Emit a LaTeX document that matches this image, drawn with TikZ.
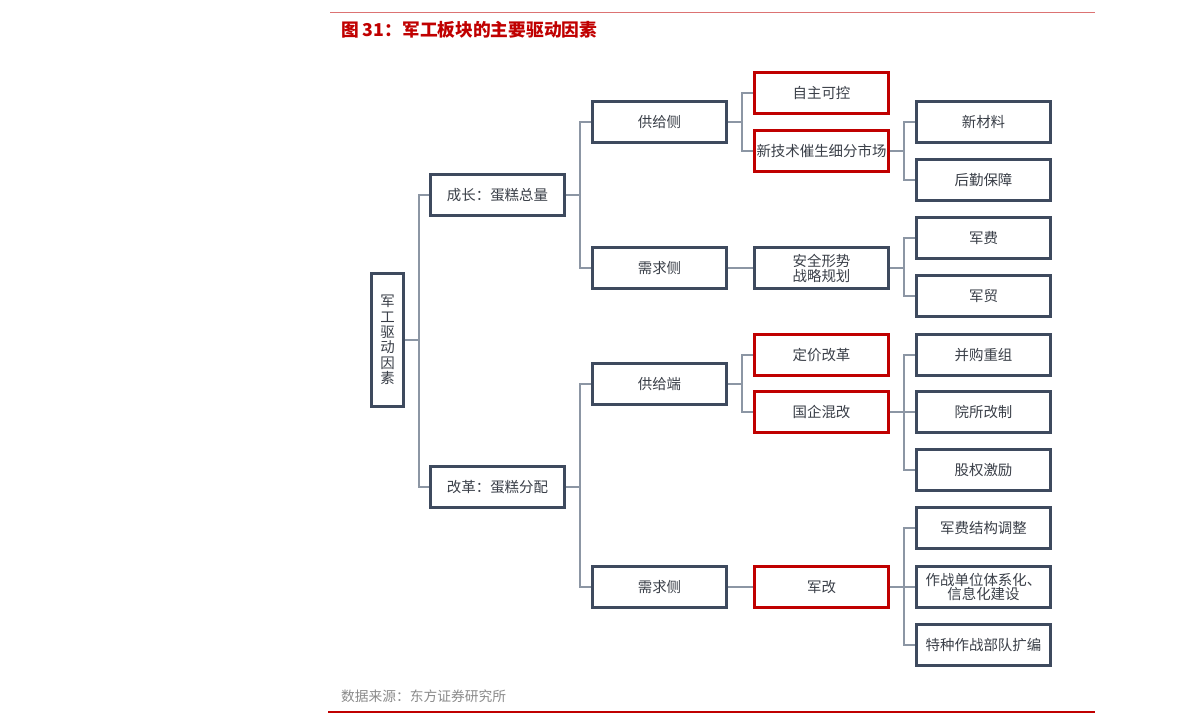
\documentclass[tikz,border=0pt]{standalone}
\usepackage{fontspec}
\usepackage{xcolor}
\usepackage{tikz}
\usetikzlibrary{calc,positioning}
\newfontfamily\cjk{Noto Sans CJK SC}
\definecolor{boxc}{HTML}{3E4A5E}
\definecolor{redc}{HTML}{C00000}
\definecolor{linec}{HTML}{8C96A4}
\definecolor{txtc}{HTML}{3A3F48}
\definecolor{srcc}{HTML}{8A8A8A}
\tikzset{
  box/.style={draw=boxc,line width=2.6bp,fill=white,align=center,inner sep=0pt,
    minimum width=134bp,minimum height=41bp,text=txtc,font=\cjk\fontsize{14.5}{16}\selectfont},
  redbox/.style={box,draw=redc},
  link/.style={linec,line width=2bp}
}
\begin{document}
\begin{tikzpicture}[x=1bp,y=-1bp]
\useasboundingbox (0,0) rectangle (1191,723);
\draw[redc!55,line width=1bp] (330,12.5)--(1095,12.5);
\draw[redc,line width=1.5bp] (328,712)--(1095,712);
\node[anchor=west,inner sep=0pt,text=redc,font=\cjk\bfseries\fontsize{17.8}{19}\selectfont] (title) at (341,30) {图 31：军工板块的主要驱动因素};
\node[anchor=west,inner sep=0pt,text=srcc,font=\cjk\fontsize{13.8}{15}\selectfont] (src) at (341,696) {数据来源：东方证券研究所};
% root and first level
\node[box,minimum width=32bp,minimum height=133bp,font=\cjk\fontsize{14.5}{15.5}\selectfont] (root) at (387.5,340) {军\\工\\驱\\动\\因\\素};
\node[box] (grow) at (497.5,195) {成长：蛋糕总量};
\node[box] (reform) at (497.5,487) {改革：蛋糕分配};
% second level
\node[box] (gsup) at (659.5,122) {供给侧};
\node[box] (gdem) at (659.5,268) {需求侧};
\node[box] (rsup) at (659.5,384) {供给端};
\node[box] (rdem) at (659.5,587) {需求侧};
% third level
\node[redbox] (self) at (821.5,93) {自主可控};
\node[redbox] (tech) at (821.5,151) {新技术催生细分市场};
\node[box,font=\cjk\fontsize{14.5}{15}\selectfont] (secu) at (821.5,268) {安全形势\\战略规划};
\node[redbox] (price) at (821.5,355) {定价改革};
\node[redbox] (soe) at (821.5,412) {国企混改};
\node[redbox] (army) at (821.5,587) {军改};
% fourth level
\node[box] (mat) at (983.5,122) {新材料};
\node[box] (logi) at (983.5,180) {后勤保障};
\node[box] (fee) at (983.5,238) {军费};
\node[box] (trade) at (983.5,296) {军贸};
\node[box] (merge) at (983.5,355) {并购重组};
\node[box] (inst) at (983.5,412) {院所改制};
\node[box] (equity) at (983.5,470) {股权激励};
\node[box] (struct) at (983.5,528) {军费结构调整};
\node[box,font=\cjk\fontsize{14.5}{15}\selectfont] (unit) at (983.5,587) {作战单位体系化、\\信息化建设};
\node[box] (spec) at (983.5,645) {特种作战部队扩编};
% connectors
\foreach \a/\b in {root/grow,root/reform,grow/gsup,grow/gdem,reform/rsup,reform/rdem,
  gsup/self,gsup/tech,rsup/price,rsup/soe,tech/mat,tech/logi,secu/fee,secu/trade,
  soe/merge,soe/inst,soe/equity,army/struct,army/unit,army/spec}
  \draw[link] (\a.east) -- ++(14,0) |- (\b.west);
\draw[link] (gdem) -- (secu);
\draw[link] (rdem) -- (army);
\end{tikzpicture}
\end{document}
